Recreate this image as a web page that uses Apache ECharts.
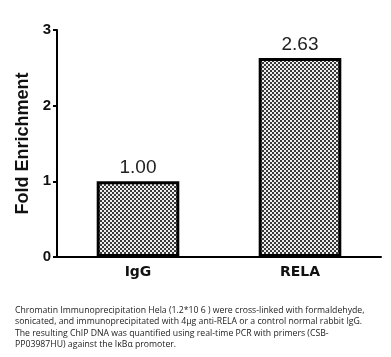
<!DOCTYPE html>
<html><head><meta charset="utf-8">
<script src="https://cdn.jsdelivr.net/npm/echarts@6/dist/echarts.min.js"></script>
<style>html,body{margin:0;padding:0;background:#fff}#c{width:391px;height:357px}</style>
</head><body><div id="c"></div>
<script>
const categories = ['IgG', 'RELA'];
const values = [1.00, 2.63];
const yTicks = [0, 1, 2, 3];
const captionLines = [
  'Chromatin Immunoprecipitation Hela (1.2*10 6 ) were cross-linked with formaldehyde,',
  'sonicated, and immunoprecipitated with 4\u03bcg anti-RELA or a control normal rabbit IgG.',
  'The resulting ChIP DNA was quantified using real-time PCR with primers (CSB-',
  'PP03987HU) against the I\u03baB\u03b1 promoter.'
];

const pc = document.createElement('canvas');
pc.width = 4; pc.height = 4;
const ctx = pc.getContext('2d');
ctx.fillStyle = '#eeeeee'; ctx.fillRect(0,0,4,4);
ctx.fillStyle = '#3a3a3a';
ctx.fillRect(0,0,2,2); ctx.fillRect(2,2,2,2);

const chart = echarts.init(document.getElementById('c'), null, {renderer:'canvas'});
chart.setOption({
  animation: false,
  backgroundColor: '#fff',
  grid: {left: 57, right: 10, top: 30, bottom: 100, containLabel: false},
  xAxis: {
    type: 'category', data: categories,
    axisLine: {lineStyle: {color: '#000', width: 2}},
    axisTick: {alignWithLabel: true, length: 5, lineStyle: {color: '#000', width: 2}},
    axisLabel: {color: '#111', fontFamily: 'DejaVu Sans', fontWeight: 'bold', fontSize: 14, margin: 8}
  },
  yAxis: {
    type: 'value', min: 0, max: 3, interval: 1,
    name: 'Fold Enrichment', nameLocation: 'middle', nameGap: 22,
    nameTextStyle: {color: '#111', fontFamily: 'Liberation Sans', fontWeight: 'bold', fontSize: 18},
    axisLine: {show: true, lineStyle: {color: '#000', width: 2}},
    axisTick: {show: true, length: 4, lineStyle: {color: '#000', width: 2}},
    splitLine: {show: false},
    axisLabel: {color: '#111', fontFamily: 'Liberation Sans', fontWeight: 'bold', fontSize: 15, margin: 6,
      formatter: v => yTicks.includes(v) ? String(v) : ''}
  },
  series: [{
    type: 'bar', data: values, barWidth: '51%',
    itemStyle: {color: {image: pc, repeat: 'repeat'}, borderColor: '#000', borderWidth: 3},
    label: {show: true, position: 'top', distance: 4, color: '#222', fontFamily: 'Liberation Sans', fontSize: 19,
      formatter: p => p.value.toFixed(2)}
  }],
  graphic: captionLines.map((t, i) => ({
    type: 'text', left: 15, top: 306 + i * 11.5,
    style: {text: t, fill: '#222', font: '8.7px "Open Sans"'}
  }))
});
</script></body></html>
